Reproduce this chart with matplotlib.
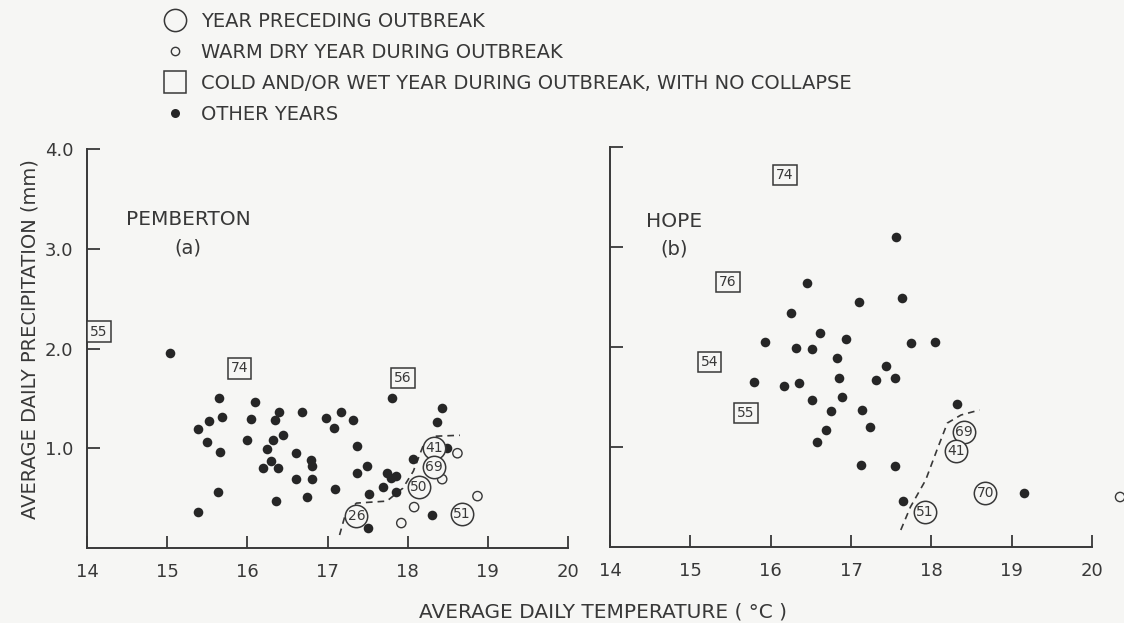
import matplotlib
matplotlib.use('Agg')
import matplotlib.pyplot as plt
from matplotlib.lines import Line2D

# ---- Pemberton (a) ----
pem_other_t = [15.03, 15.38, 15.52, 15.65, 15.68, 15.50, 15.66, 15.64, 15.38,
               16.09, 16.05, 16.00, 16.40, 16.34, 16.45, 16.32, 16.24, 16.29,
               16.19, 16.38, 16.36, 16.61, 16.61, 16.68, 16.98, 17.17, 17.32,
               17.08, 17.37, 16.79, 16.81, 16.81, 16.75, 17.09, 17.49, 17.37,
               17.52, 17.51, 17.81, 18.43, 18.37, 18.49, 18.06, 17.74, 17.79,
               17.86, 17.69, 17.85, 18.30]
pem_other_p = [1.95, 1.19, 1.27, 1.50, 1.31, 1.06, 0.96, 0.56, 0.36,
               1.46, 1.29, 1.08, 1.36, 1.28, 1.13, 1.08, 0.99, 0.87,
               0.80, 0.80, 0.47, 0.95, 0.69, 1.36, 1.30, 1.36, 1.28,
               1.20, 1.02, 0.88, 0.82, 0.69, 0.51, 0.59, 0.82, 0.75,
               0.54, 0.20, 1.50, 1.40, 1.26, 1.00, 0.89, 0.75, 0.70,
               0.72, 0.61, 0.56, 0.33]
pem_warm_t = [18.62, 18.43, 18.87, 18.08, 17.92]
pem_warm_p = [0.95, 0.69, 0.52, 0.41, 0.25]
pem_pre_year = ['41', '69', '50', '26', '51']
pem_pre_t = [18.33, 18.33, 18.14, 17.36, 18.68]
pem_pre_p = [1.00, 0.81, 0.61, 0.32, 0.34]
pem_cold_year = ['55', '74', '56']
pem_cold_t = [14.15, 15.90, 17.94]
pem_cold_p = [2.17, 1.80, 1.70]
pem_curve_t = [17.15, 17.22, 17.36, 17.74, 17.94, 18.07, 18.19, 18.32, 18.65]
pem_curve_p = [0.13, 0.33, 0.45, 0.47, 0.60, 0.77, 1.02, 1.12, 1.13]

# ---- Hope (b) ----
hope_other_t = [17.56, 16.45, 17.64, 17.10, 16.25, 16.61, 16.94, 15.93, 17.75,
                18.04, 16.32, 16.51, 16.82, 17.44, 15.79, 16.16, 16.35, 16.85,
                17.31, 17.55, 16.52, 16.89, 16.75, 17.14, 17.24, 16.69, 16.58,
                17.12, 17.55, 18.32, 17.65, 19.15]
hope_other_p = [3.10, 2.64, 2.49, 2.45, 2.34, 2.14, 2.08, 2.05, 2.04,
                2.05, 1.99, 1.98, 1.89, 1.81, 1.65, 1.61, 1.64, 1.69,
                1.67, 1.69, 1.47, 1.50, 1.36, 1.37, 1.20, 1.17, 1.05,
                0.82, 0.81, 1.43, 0.46, 0.54]
hope_warm_t = [20.35]
hope_warm_p = [0.50]
hope_pre_year = ['69', '41', '70', '51']
hope_pre_t = [18.41, 18.31, 18.67, 17.92]
hope_pre_p = [1.15, 0.96, 0.54, 0.35]
hope_cold_year = ['74', '76', '54', '55']
hope_cold_t = [16.18, 15.47, 15.24, 15.69]
hope_cold_p = [3.72, 2.65, 1.85, 1.34]
hope_curve_t = [17.62, 17.74, 17.93, 18.07, 18.20, 18.37, 18.60]
hope_curve_p = [0.17, 0.40, 0.67, 0.97, 1.24, 1.32, 1.37]

INK = '#383838'
BG = '#f6f6f4'
plt.rcParams['font.family'] = 'DejaVu Sans'
plt.rcParams['text.color'] = INK

fig = plt.figure(figsize=(11.24, 6.23), dpi=100, facecolor=BG)
ax_a = fig.add_axes([0.0774, 0.1204, 0.428, 0.6404])
ax_b = fig.add_axes([0.5427, 0.1220, 0.4288, 0.6420])


def draw_panel(ax, other_t, other_p, warm_t, warm_p, pre_t, pre_p, pre_year,
               cold_t, cold_p, cold_year, curve_t, curve_p, name, tag, name_xy):
    ax.set_facecolor(BG)
    ax.set_xlim(14, 20)
    ax.set_ylim(0, 4)
    for s in ['top', 'right']:
        ax.spines[s].set_visible(False)
    for s in ['left', 'bottom']:
        ax.spines[s].set_color(INK)
        ax.spines[s].set_linewidth(1.4)
    ax.set_xticks(range(14, 21))
    ax.set_yticks([1, 2, 3, 4])
    ax.tick_params(direction='in', length=9, width=1.3, color=INK,
                   labelcolor=INK, labelsize=13)
    ax.tick_params(axis='x', pad=11)
    ax.tick_params(axis='y', pad=10)

    ax.plot(curve_t, curve_p, linestyle=(0, (4, 3)), color=INK, lw=1.2, zorder=2)
    ax.scatter(other_t, other_p, s=48, color='#262626', zorder=3, linewidths=0)
    ax.scatter(warm_t, warm_p, s=45, facecolors='none', edgecolors=INK,
               linewidths=1.0, zorder=3, clip_on=False)
    ax.scatter(pre_t, pre_p, s=260, facecolors=BG, edgecolors=INK,
               linewidths=1.1, zorder=4)
    for t, p, yr in zip(pre_t, pre_p, pre_year):
        ax.text(t, p, yr, ha='center', va='center', fontsize=10, color=INK, zorder=5)
    for t, p, yr in zip(cold_t, cold_p, cold_year):
        ax.text(t, p, yr, ha='center', va='center', fontsize=10, color=INK, zorder=5,
                bbox=dict(boxstyle='square,pad=0.22', fc=BG, ec=INK, lw=1.1))
    ax.text(name_xy[0], name_xy[1], name, ha='center', va='center', fontsize=14.5)
    ax.text(name_xy[0], name_xy[1] - 0.28, tag, ha='center', va='center', fontsize=14)


draw_panel(ax_a, pem_other_t, pem_other_p, pem_warm_t, pem_warm_p,
           pem_pre_t, pem_pre_p, pem_pre_year, pem_cold_t, pem_cold_p,
           pem_cold_year, pem_curve_t, pem_curve_p, 'PEMBERTON', '(a)', (15.26, 3.29))
draw_panel(ax_b, hope_other_t, hope_other_p, hope_warm_t, hope_warm_p,
           hope_pre_t, hope_pre_p, hope_pre_year, hope_cold_t, hope_cold_p,
           hope_cold_year, hope_curve_t, hope_curve_p, 'HOPE', '(b)', (14.80, 3.26))

ax_a.set_yticklabels(['1.0', '2.0', '3.0', '4.0'])
ax_b.set_yticklabels([])

fig.text(0.5365, 0.018, 'AVERAGE DAILY TEMPERATURE ( °C )', ha='center', va='center',
         fontsize=14.5)
fig.text(0.027, 0.455, 'AVERAGE DAILY PRECIPITATION (mm)', ha='center', va='center',
         rotation=90, fontsize=14)

handles = [
    Line2D([], [], ls='none', marker='o', ms=16, mfc='none', mec=INK, mew=1.1),
    Line2D([], [], ls='none', marker='o', ms=6, mfc='none', mec=INK, mew=1.0),
    Line2D([], [], ls='none', marker='s', ms=16, mfc='none', mec=INK, mew=1.1),
    Line2D([], [], ls='none', marker='o', ms=6.5, mfc='#262626', mec='none'),
]
labels = ['YEAR PRECEDING OUTBREAK',
          'WARM DRY YEAR DURING OUTBREAK',
          'COLD AND/OR WET YEAR DURING OUTBREAK, WITH NO COLLAPSE',
          'OTHER YEARS']
fig.legend(handles, labels, loc='upper left', bbox_to_anchor=(0.137, 1.0),
           frameon=False, fontsize=14, labelspacing=0.62, handlelength=1.0,
           handletextpad=0.8, borderaxespad=0.2)

fig.savefig('out.png', dpi=100, facecolor=BG)
